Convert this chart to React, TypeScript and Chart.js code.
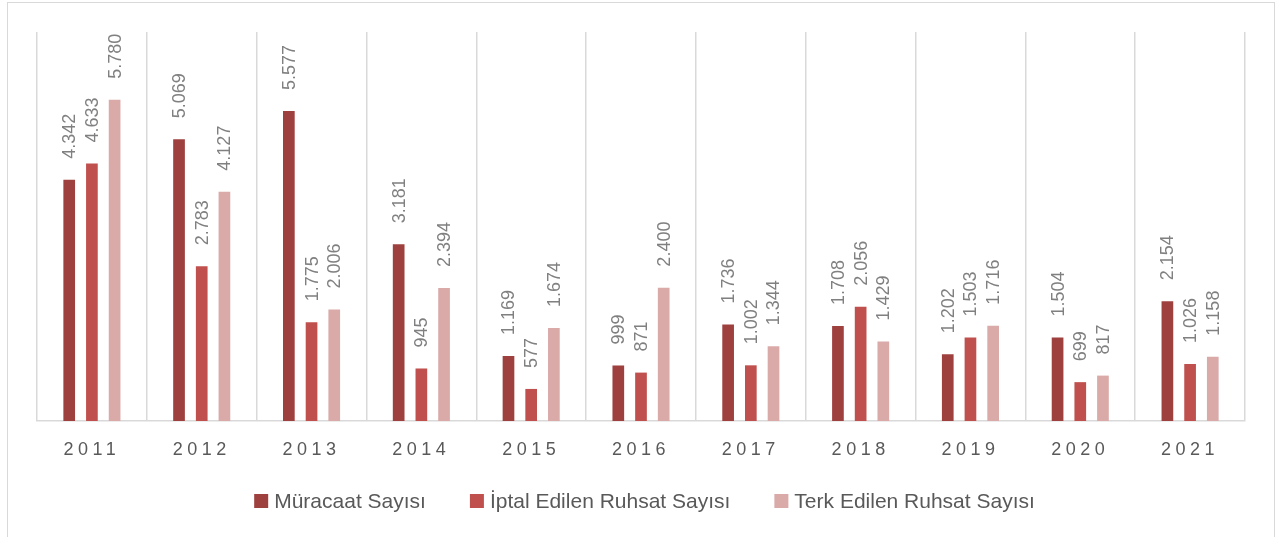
import React, { useEffect, useRef } from "react";
import { Chart, registerables } from "chart.js";

Chart.register(...registerables);

const years = ["2011", "2012", "2013", "2014", "2015", "2016", "2017", "2018", "2019", "2020", "2021"];
const muracaat = [4342, 5069, 5577, 3181, 1169, 999, 1736, 1708, 1202, 1504, 2154];
const iptal = [4633, 2783, 1775, 945, 577, 871, 1002, 2056, 1503, 699, 1026];
const terk = [5780, 4127, 2006, 2394, 1674, 2400, 1344, 1429, 1716, 817, 1158];
const seriesNames = ["Müracaat Sayısı", "İptal Edilen Ruhsat Sayısı", "Terk Edilen Ruhsat Sayısı"];
const seriesColors = ["#9E403E", "#C0504D", "#DAAAA9"];

const FONT = "'Liberation Sans', Arial, sans-serif";

function fmt(n: number): string {
  if (n < 1000) return String(n);
  const th = Math.floor(n / 1000);
  const rest = String(n % 1000).padStart(3, "0");
  return th + "." + rest;
}

const customDraw = {
  id: "customDraw",
  afterDatasetsDraw(chart: any) {
    const ctx = chart.ctx;
    chart.data.datasets.forEach((ds: any, di: number) => {
      const meta = chart.getDatasetMeta(di);
      meta.data.forEach((bar: any, i: number) => {
        ctx.save();
        ctx.translate(bar.x + 1, bar.y - 21);
        ctx.rotate(-Math.PI / 2);
        ctx.font = "18px " + FONT;
        ctx.fillStyle = "#808080";
        ctx.textAlign = "left";
        ctx.textBaseline = "middle";
        ctx.fillText(fmt(ds.data[i]), 0, 0);
        ctx.restore();
      });
    });
  },
  afterDraw(chart: any) {
    const ctx = chart.ctx;
    const xs = chart.scales.x;
    ctx.save();
    ctx.font = "18px " + FONT;
    ctx.fillStyle = "#595959";
    ctx.textAlign = "center";
    ctx.textBaseline = "alphabetic";
    try { (ctx as any).letterSpacing = "4.5px"; } catch (e) {}
    chart.data.labels.forEach((lab: string, i: number) => {
      ctx.fillText(lab, xs.getPixelForTick(i), chart.chartArea.bottom + 34);
    });
    ctx.restore();

    ctx.save();
    ctx.font = "21px " + FONT;
    ctx.textBaseline = "middle";
    ctx.textAlign = "left";
    const box = 14;
    const gapText = 6;
    const gapItem = 44;
    const items = chart.data.datasets.map((ds: any) => ({
      label: ds.label,
      color: ds.backgroundColor,
      w: ctx.measureText(ds.label).width,
    }));
    let total = 0;
    items.forEach((it: any, k: number) => {
      total += box + gapText + it.w + (k < items.length - 1 ? gapItem : 0);
    });
    let x = chart.width / 2 + 2 - total / 2;
    const cy = 501;
    items.forEach((it: any) => {
      ctx.fillStyle = it.color;
      ctx.fillRect(x, cy - box / 2, box, box);
      ctx.fillStyle = "#595959";
      ctx.fillText(it.label, x + box + gapText, cy + 1);
      x += box + gapText + it.w + gapItem;
    });
    ctx.restore();
  },
};

export default function App() {
  const ref = useRef<HTMLCanvasElement | null>(null);

  useEffect(() => {
    if (!ref.current) return;
    const data = [muracaat, iptal, terk];
    const chart = new Chart(ref.current, {
      type: "bar",
      data: {
        labels: years,
        datasets: seriesNames.map((name, k) => ({
          label: name,
          data: data[k],
          backgroundColor: seriesColors[k],
          borderWidth: 0,
          categoryPercentage: 0.62,
          barPercentage: 0.515,
        })),
      },
      options: {
        animation: false,
        responsive: false,
        maintainAspectRatio: false,
        layout: { padding: { left: 37, right: 40, top: 32, bottom: 0 } },
        plugins: {
          legend: { display: false },
          tooltip: { enabled: false },
        },
        scales: {
          x: {
            display: true,
            ticks: { display: false },
            grid: { color: "#D9D9D9", lineWidth: 1.5, drawTicks: false, offset: true },
            border: { color: "#D9D9D9", width: 1.5 },
            afterFit: (scale: any) => {
              scale.height = 116;
            },
          },
          y: {
            display: false,
            min: 0,
            max: 7000,
          },
        },
      },
      plugins: [customDraw],
    });
    return () => chart.destroy();
  }, []);

  return (
    <div style={{ position: "fixed", left: 0, top: 0, width: 1285, height: 537, background: "#fff", overflow: "hidden" }}>
      <div
        style={{
          position: "absolute",
          left: 7,
          top: 2,
          width: 1266,
          height: 560,
          border: "1px solid #D9D9D9",
        }}
      />
      <canvas ref={ref} width={1285} height={537} style={{ position: "absolute", left: 0, top: 0, width: 1285, height: 537 }} />
    </div>
  );
}
